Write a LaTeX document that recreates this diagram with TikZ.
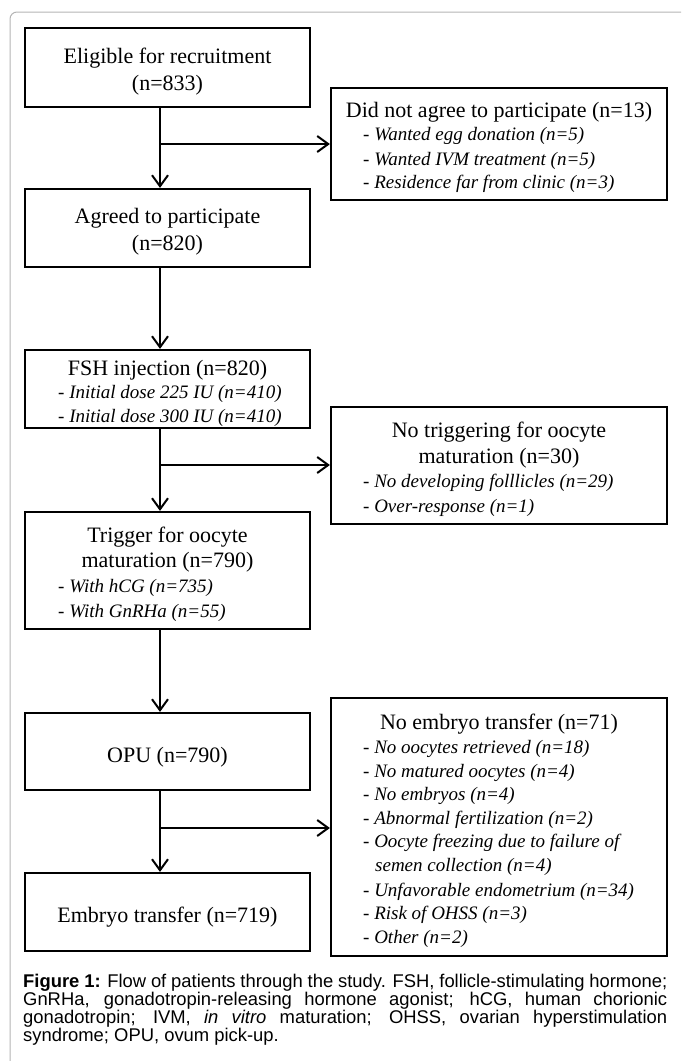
\documentclass[tikz,border=0pt]{standalone}
\usepackage{fontspec}
\setmainfont{Liberation Serif}
\newfontfamily\capfont{Liberation Sans}
\usetikzlibrary{arrows.meta}
\definecolor{framegray}{HTML}{B4B4B4}
\tikzset{
  box/.style={draw=black, line width=2.2pt, inner sep=0pt, fill=none},
  ttl/.style={font=\fontsize{22}{27}\selectfont, inner sep=0pt, anchor=base},
  itm/.style={font=\fontsize{19}{24}\selectfont\itshape, inner sep=0pt, anchor=base west},
  arr/.style={line width=2pt, -{Straight Barb[length=11pt,width=16pt,line width=2pt]}},
  capstyle/.style={font=\capfont\fontsize{18.4}{18.3}\selectfont, inner sep=0pt, anchor=base west, text width=644pt, align=justify}
}
\begin{document}
\begin{tikzpicture}[x=1pt,y=-1pt]
\useasboundingbox (0,0) rectangle (681,1061);
% outer frame
\draw[framegray, line width=1pt, rounded corners=7pt] (10,1061) -- (10,12) -- (681,12);

% left column boxes
\node[box, minimum width=285pt, minimum height=79pt] (b1) at (167.5,67.5) {};
\node[box, minimum width=285pt, minimum height=78pt] (b2) at (167.5,228) {};
\node[box, minimum width=285pt, minimum height=78pt] (b3) at (167.5,389) {};
\node[box, minimum width=285pt, minimum height=117pt] (b4) at (167.5,570.5) {};
\node[box, minimum width=285pt, minimum height=77pt] (b5) at (167.5,751.5) {};
\node[box, minimum width=285pt, minimum height=78pt] (b6) at (167.5,912) {};
% right column boxes
\node[box, minimum width=336pt, minimum height=112pt] (d1) at (499,144) {};
\node[box, minimum width=336pt, minimum height=117pt] (d2) at (499,465.5) {};
\node[box, minimum width=336pt, minimum height=258pt] (d3) at (499,827) {};

% texts in left boxes
\node[ttl] (t1a) at (167.5,63) {Eligible for recruitment};
\node[ttl] (t1b) at (167.5,90) {(n=833)};
\node[ttl] (t2a) at (167.5,223) {Agreed to participate};
\node[ttl] (t2b) at (167.5,250) {(n=820)};
\node[ttl] (t3a) at (167.5,375) {FSH injection (n=820)};
\node[itm] (t3b) at (58,398) {- Initial dose 225 IU (n=410)};
\node[itm] (t3c) at (58,422) {- Initial dose 300 IU (n=410)};
\node[ttl] (t4a) at (167.5,542) {Trigger for oocyte};
\node[ttl] (t4b) at (167.5,567) {maturation (n=790)};
\node[itm] (t4c) at (58,592) {- With hCG (n=735)};
\node[itm] (t4d) at (58,617) {- With GnRHa (n=55)};
\node[ttl] (t5a) at (167.5,762) {OPU (n=790)};
\node[ttl] (t6a) at (167.5,922) {Embryo transfer (n=719)};

% texts in right boxes
\node[ttl] (u1a) at (499,117) {Did not agree to participate (n=13)};
\node[itm] (u1b) at (363,140) {- Wanted egg donation (n=5)};
\node[itm] (u1c) at (363,165) {- Wanted IVM treatment (n=5)};
\node[itm] (u1d) at (363,188) {- Residence far from clinic (n=3)};
\node[ttl] (u2a) at (499,437) {No triggering for oocyte};
\node[ttl] (u2b) at (499,463) {maturation (n=30)};
\node[itm] (u2c) at (363,487) {- No developing folllicles (n=29)};
\node[itm] (u2d) at (363,512) {- Over-response (n=1)};
\node[ttl] (u3a) at (499,729) {No embryo transfer (n=71)};
\node[itm] (u3b) at (363,753) {- No oocytes retrieved (n=18)};
\node[itm] (u3c) at (363,777) {- No matured oocytes (n=4)};
\node[itm] (u3d) at (363,800) {- No embryos (n=4)};
\node[itm] (u3e) at (363,824) {- Abnormal fertilization (n=2)};
\node[itm] (u3f) at (363,847) {- Oocyte freezing due to failure of};
\node[itm] (u3g) at (375,871) {semen collection (n=4)};
\node[itm] (u3h) at (363,896) {- Unfavorable endometrium (n=34)};
\node[itm] (u3i) at (363,919) {- Risk of OHSS (n=3)};
\node[itm] (u3j) at (363,943) {- Other (n=2)};

% connectors
\coordinate (ax) at (160,0);
\coordinate (j1) at (160,144);
\coordinate (j2) at (160,465);
\coordinate (j3) at (160,828);
\draw[arr] (b1.south -| ax) -- (b2.north -| ax);
\draw[arr] (j1) -- (d1.west |- j1);
\draw[arr] (b2.south -| ax) -- (b3.north -| ax);
\draw[arr] (b3.south -| ax) -- (b4.north -| ax);
\draw[arr] (j2) -- (d2.west |- j2);
\draw[arr] (b4.south -| ax) -- (b5.north -| ax);
\draw[arr] (b5.south -| ax) -- (b6.north -| ax);
\draw[arr] (j3) -- (d3.west |- j3);

% caption
\node[capstyle] (cap) at (23,987) {\textbf{Figure 1:} Flow of patients through the study. FSH, follicle-stimulating hormone;\linebreak GnRHa, gonadotropin-releasing hormone agonist; hCG, human chorionic\linebreak gonadotropin; IVM, \textit{in vitro} maturation; OHSS, ovarian hyperstimulation\linebreak syndrome; OPU, ovum pick-up.};
\end{tikzpicture}
\end{document}
